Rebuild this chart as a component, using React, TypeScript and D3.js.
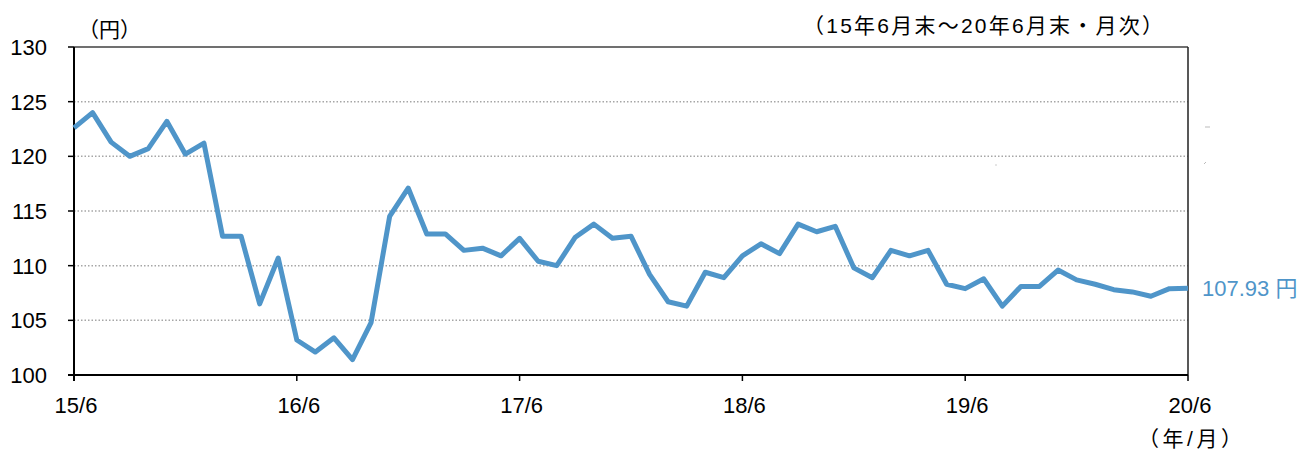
import React from "react";
import * as d3 from "d3";

const rates: number[] = [
  122.6, 124.0, 121.3, 120.0, 120.7, 123.2, 120.2, 121.2, 112.7, 112.7,
  106.5, 110.7, 103.2, 102.1, 103.4, 101.4, 104.8, 114.5, 117.1, 112.9,
  112.9, 111.4, 111.6, 110.9, 112.5, 110.4, 110.0, 112.6, 113.8, 112.5,
  112.7, 109.2, 106.7, 106.3, 109.4, 108.9, 110.9, 112.0, 111.1, 113.8,
  113.1, 113.6, 109.8, 108.9, 111.4, 110.9, 111.4, 108.3, 107.9, 108.8,
  106.3, 108.1, 108.1, 109.6, 108.7, 108.3, 107.8, 107.6, 107.2, 107.9,
  107.93,
];

const yTicks = [100, 105, 110, 115, 120, 125, 130];
const xTickLabels = ["15/6", "16/6", "17/6", "18/6", "19/6", "20/6"];
const lastLabel = "107.93 円";
const unitLabel = "（円）";
const periodLabel = "（15年6月末～20年6月末・月次）";
const xUnitLabel = "（年/月）";

const W = 1307;
const H = 451;
const L = 74, R = 1188, T = 47, B = 375;
const font = "'Liberation Sans', Arial, 'Noto Sans CJK JP', sans-serif";
const jfont = "'Liberation Sans', 'Noto Sans CJK JP', sans-serif";

export default function App() {
  const x = d3.scaleLinear().domain([0, rates.length - 1]).range([L, R]);
  const y = d3.scaleLinear().domain([100, 130]).range([B, T]);
  const line = d3
    .line<number>()
    .x((_, i) => x(i))
    .y((d) => y(d));

  return (
    <svg
      width={W}
      height={H}
      style={{ position: "absolute", left: 0, top: 0, background: "#fff" }}
    >
      {yTicks.slice(1, -1).map((t) => (
        <line
          key={"g" + t}
          x1={L}
          x2={R}
          y1={y(t)}
          y2={y(t)}
          stroke="#a6a6a6"
          strokeWidth={1.5}
          strokeDasharray="1.5 2"
        />
      ))}
      {/* frame */}
      <line x1={L} x2={R} y1={T} y2={T} stroke="#404040" strokeWidth={1.5} />
      <line x1={R} x2={R} y1={T} y2={B} stroke="#202020" strokeWidth={1.5} />
      <line x1={L} x2={L} y1={T} y2={B + 6} stroke="#000" strokeWidth={2} />
      <line x1={L - 6} x2={R} y1={B} y2={B} stroke="#000" strokeWidth={2} />
      {yTicks.map((t) => (
        <g key={"y" + t}>
          <line x1={L - 6} x2={L} y1={y(t)} y2={y(t)} stroke="#000" strokeWidth={1.5} />
          <text
            x={47}
            y={y(t)}
            dy="0.36em"
            textAnchor="end"
            fontFamily={font}
            fontSize={22}
            fill="#000"
          >
            {t}
          </text>
        </g>
      ))}
      {xTickLabels.map((lab, i) => (
        <g key={"x" + lab}>
          <line
            x1={x(i * 12)}
            x2={x(i * 12)}
            y1={B}
            y2={B + 6}
            stroke="#000"
            strokeWidth={1.5}
          />
          <text
            x={x(i * 12) + 2}
            y={413}
            textAnchor="middle"
            fontFamily={font}
            fontSize={22}
            fill="#000"
          >
            {lab}
          </text>
        </g>
      ))}
      <path
        d={line(rates) || ""}
        fill="none"
        stroke="#4f95c9"
        strokeWidth={5}
        strokeLinejoin="round"
      />
      <text
        x={1202}
        y={y(rates[rates.length - 1])}
        dy="0.36em"
        fontFamily={jfont}
        fontSize={22}
        fill="#4f95c9"
      >
        {lastLabel}
      </text>
      <text x={78} y={37} fontFamily={jfont} fontSize={21} fill="#000">
        {unitLabel}
      </text>
      <text
        x={803}
        y={33}
        fontFamily={jfont}
        fontSize={21}
        fill="#000"
        textLength={360}
        lengthAdjust="spacing"
      >
        {periodLabel}
      </text>
      <text
        x={1138}
        y={446}
        fontFamily={jfont}
        fontSize={21}
        fill="#000"
        textLength={104}
        lengthAdjust="spacing"
      >
        {xUnitLabel}
      </text>
      <line x1={1205} x2={1210} y1={127} y2={127} stroke="#bbb" strokeWidth={1} />
      <line x1={1204} x2={1206} y1={164} y2={162} stroke="#bbb" strokeWidth={1} />
      <line x1={995} x2={997} y1={165} y2={165} stroke="#ccc" strokeWidth={1} />
    </svg>
  );
}
